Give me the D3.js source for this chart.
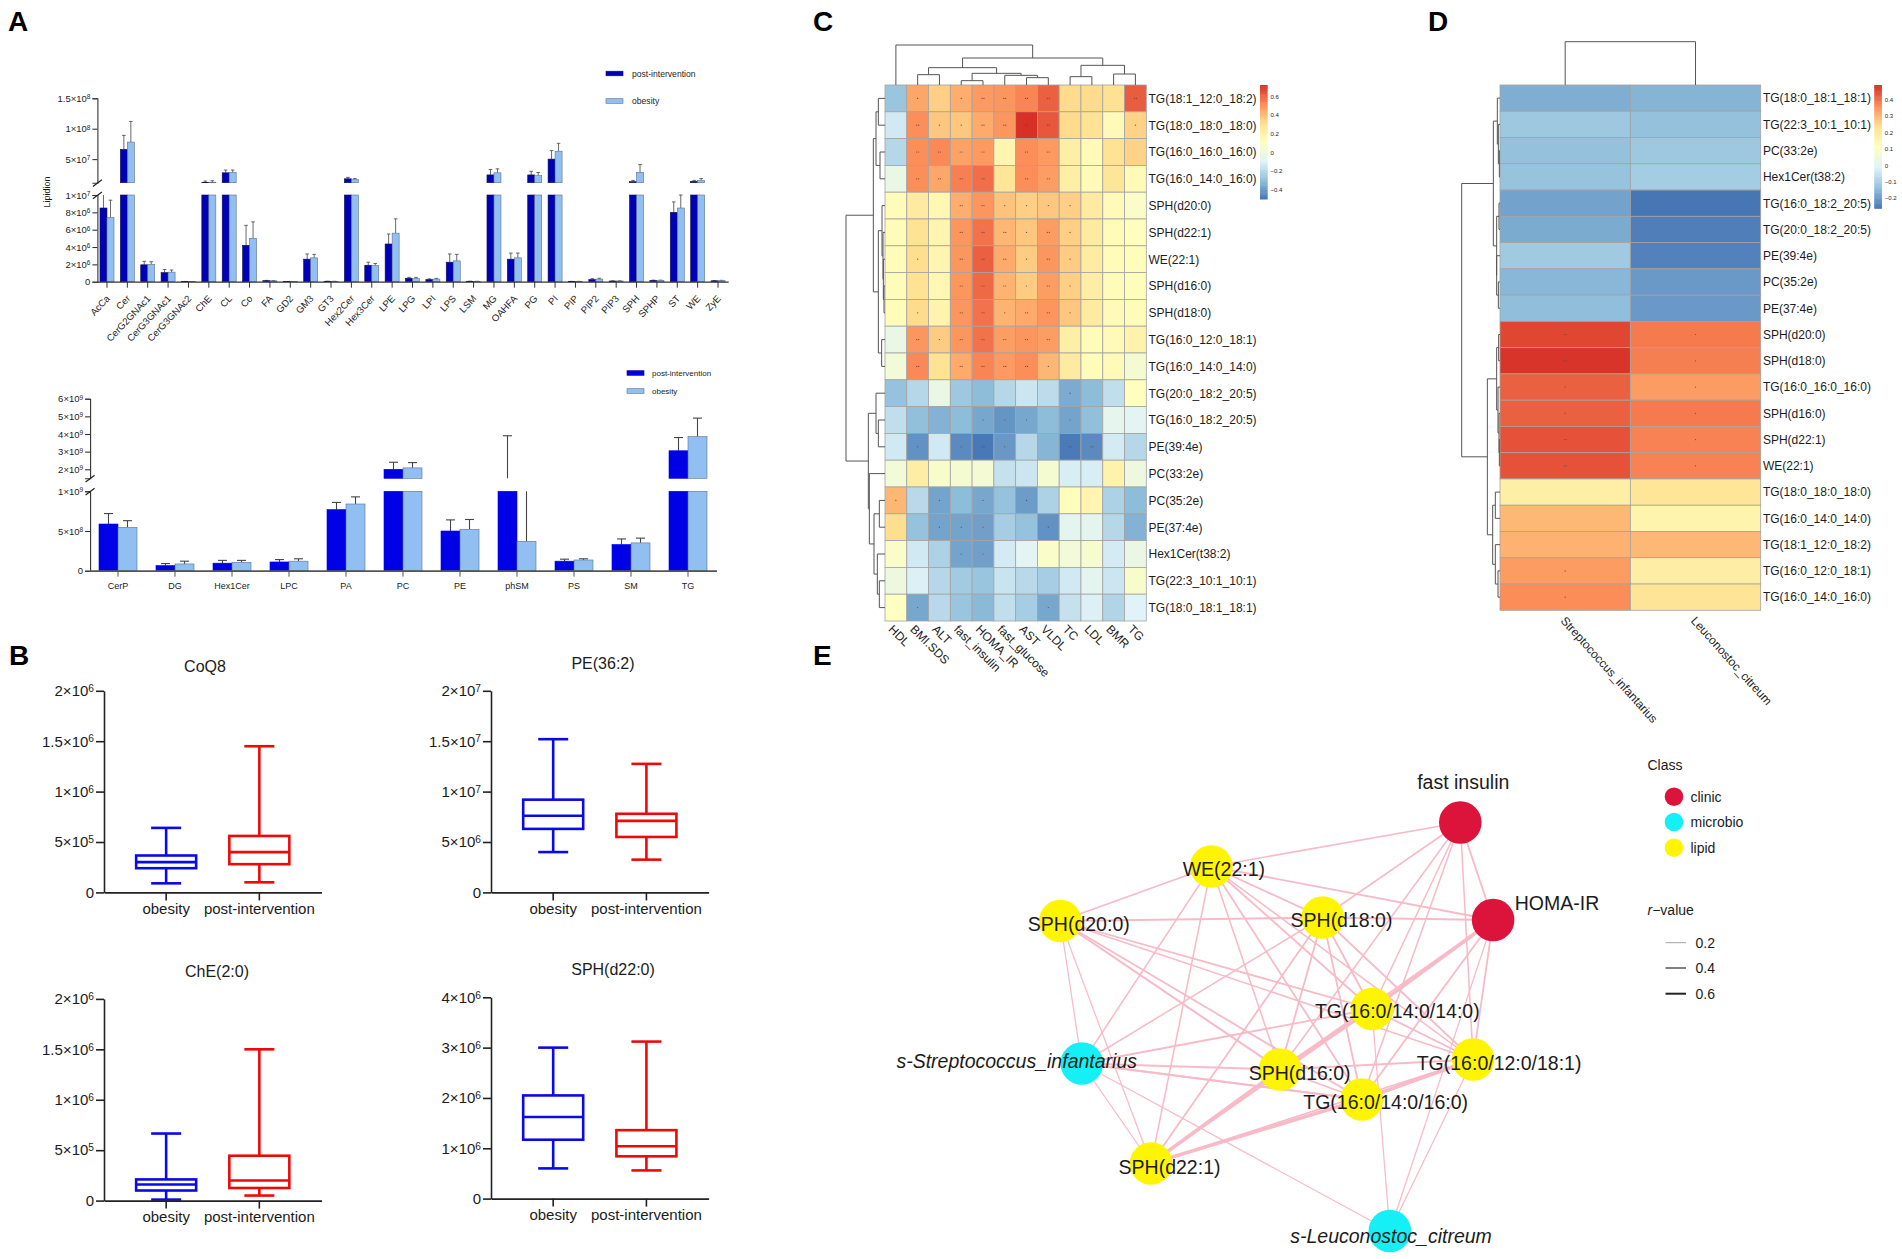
<!DOCTYPE html>
<html><head><meta charset="utf-8">
<script src="https://d3js.org/d3.v7.min.js"></script>
<style>html,body{margin:0;padding:0;background:#fff}svg{display:block}text{font-family:"Liberation Sans",Arial,sans-serif;fill:#1c1c1c}</style>
</head><body><svg id="c" width="1902" height="1259"></svg>
<script>
// ---------- Panel A top ----------
const aTopCats=["AcCa","Cer","CerG2GNAc1","CerG3GNAc1","CerG3GNAc2","ChE","CL","Co","FA","GD2","GM3","GT3","Hex2Cer","Hex3Cer","LPE","LPG","LPI","LPS","LSM","MG","OAHFA","PG","PI","PIP","PIP2","PIP3","SPH","SPHP","ST","WE","ZyE"];
const aTopPost=[8.5e6,6.6e7,1.95e6,1.05e6,1e4,1.15e7,2.75e7,4.2e6,1.2e5,1e4,2.6e6,5e4,1.76e7,1.9e6,4.35e6,4e5,2.5e5,2.25e6,5e4,2.4e7,2.6e6,2.4e7,5e7,3e4,2.5e5,8e4,1.3e7,1.5e5,8e6,1.35e7,1e5];
const aTopPostErr=[1.05e7,8.9e7,2.35e6,1.4e6,1e4,1.4e7,3.2e7,6.5e6,1.5e5,1e4,3.2e6,6e4,2e7,2.25e6,5.5e6,5e5,3.3e5,3.2e6,6e4,3.3e7,3.3e6,3e7,6.4e7,4e4,3.5e5,1e5,1.5e7,1.8e5,9.2e6,1.5e7,1.3e5];
const aTopObes=[7.4e6,7.8e7,2e6,1.1e6,1e4,1.2e7,2.8e7,5e6,1e5,1e4,2.75e6,4e4,1.65e7,1.85e6,5.6e6,3.5e5,3e5,2.4e6,4e4,2.75e7,2.75e6,2.3e7,6.3e7,3e4,3e5,8e4,2.8e7,1.5e5,8.5e6,1.5e7,1.2e5];
const aTopObesErr=[9.4e6,1.12e8,2.3e6,1.35e6,1e4,1.45e7,3.2e7,6.9e6,1.3e5,1e4,3.15e6,5e4,1.8e7,2.1e6,7.25e6,5e5,3.8e5,3.15e6,5e4,3.4e7,3.3e6,2.8e7,7.6e7,4e4,4e5,1e5,4.1e7,1.8e5,1e7,1.8e7,1.6e5];
// ---------- Panel A bottom ----------
const aBotCats=["CerP","DG","Hex1Cer","LPC","PA","PC","PE","phSM","PS","SM","TG"];
const aBotPost=[5.88e8,6.5e7,9.5e7,1.1e8,7.7e8,2e9,5e8,1.45e9,1.2e8,3.3e8,3.05e9];
const aBotPostErr=[7.2e8,9e7,1.3e8,1.4e8,8.6e8,2.4e9,6.4e8,3.9e9,1.45e8,4e8,3.8e9];
const aBotObes=[5.46e8,8.5e7,1.05e8,1.2e8,8.4e8,2.08e9,5.2e8,3.7e8,1.35e8,3.5e8,3.85e9];
const aBotObesErr=[6.3e8,1.2e8,1.3e8,1.5e8,9.3e8,2.38e9,6.45e8,1.45e9,1.5e8,4.1e8,4.9e9];
// ---------- Panel B ----------
const boxGroups=["obesity","post-intervention"];
const coq8=[[9e4,2.4e5,3e5,3.66e5,6.4e5],[1e5,2.8e5,4e5,5.6e5,1.45e6]];
const pe362=[[4e6,6.3e6,7.6e6,9.2e6,1.52e7],[3.25e6,5.5e6,7.1e6,7.8e6,1.275e7]];
const che20=[[1e4,1e5,1.6e5,2.1e5,6.65e5],[5e4,1.25e5,2e5,4.45e5,1.5e6]];
const sph220=[[6e5,1.17e6,1.62e6,2.05e6,3e6],[5.6e5,8.4e5,1.04e6,1.36e6,3.12e6]];
// ---------- Panel C ----------
const cRows=["TG(18:1_12:0_18:2)","TG(18:0_18:0_18:0)","TG(16:0_16:0_16:0)","TG(16:0_14:0_16:0)","SPH(d20:0)","SPH(d22:1)","WE(22:1)","SPH(d16:0)","SPH(d18:0)","TG(16:0_12:0_18:1)","TG(16:0_14:0_14:0)","TG(20:0_18:2_20:5)","TG(16:0_18:2_20:5)","PE(39:4e)","PC(33:2e)","PC(35:2e)","PE(37:4e)","Hex1Cer(t38:2)","TG(22:3_10:1_10:1)","TG(18:0_18:1_18:1)"];
const cCols=["HDL","BMI.SDS","ALT","fast_insulin","HOMA_IR","fast_glucose","AST","VLDL","TC","LDL","BMR","TG"];
const cVals=[
[-.27,.46,.36,.44,.49,.5,.54,.62,.33,.33,.31,.63],
[-.13,.52,.38,.38,.45,.5,.726,.64,.33,.3,.15,.35],
[-.2,.52,.53,.47,.49,.18,.52,.49,.22,.15,.3,.35],
[-.02,.52,.46,.55,.59,.28,.52,.48,.22,.15,.28,.15],
[.14,.25,.17,.44,.5,.39,.36,.38,.36,.25,.15,.08],
[.14,.3,.18,.5,.58,.42,.38,.48,.36,.25,.14,.12],
[.14,.32,.18,.5,.62,.45,.37,.5,.37,.24,.14,.13],
[.14,.3,.17,.5,.6,.43,.37,.48,.36,.23,.14,.13],
[.14,.33,.19,.5,.58,.43,.45,.5,.38,.25,.15,.14],
[-.02,.5,.37,.5,.58,.48,.5,.48,.22,.14,.15,.2],
[.03,.53,.3,.45,.54,.49,.52,.42,.25,.14,.15,.05],
[-.28,-.2,-.02,-.26,-.3,-.2,-.14,-.18,-.35,-.3,-.17,.12],
[-.17,-.29,-.33,-.3,-.36,-.41,-.36,-.3,-.37,-.29,-.05,-.07],
[-.13,-.42,-.13,-.44,-.49,-.4,-.2,-.32,-.48,-.44,-.12,-.2],
[.03,.23,.07,.05,.04,-.16,-.14,.05,-.11,-.11,.2,0],
[.42,-.19,-.37,-.3,-.36,-.28,-.39,-.22,.13,.18,-.22,-.3],
[.32,-.28,-.37,-.37,-.38,-.24,-.28,-.42,-.06,-.06,-.2,-.33],
[.08,-.13,-.22,-.37,-.38,-.12,-.07,.08,.03,.06,-.12,-.02],
[0,-.1,-.2,-.25,-.27,-.15,-.19,-.24,-.13,-.06,-.14,.07],
[.11,-.36,-.19,-.27,-.31,-.17,-.24,-.36,-.16,-.1,-.21,-.09]];
const cSig=[
[0,1,0,1,2,2,2,2,0,0,0,2],[0,2,1,1,2,2,2,2,0,0,0,1],[0,2,2,2,2,0,2,2,0,0,0,0],[0,2,2,2,2,0,2,2,0,0,0,0],
[0,0,0,2,2,1,1,1,1,0,0,0],[0,0,0,2,2,2,1,2,1,0,0,0],[0,1,0,2,2,2,1,2,1,0,0,0],[0,0,0,2,2,2,1,2,1,0,0,0],
[0,1,0,2,2,1,2,2,1,0,0,0],[0,2,1,2,2,2,2,2,0,0,0,0],[0,2,0,2,2,2,2,1,0,0,0,0],[0,0,0,0,0,0,0,0,1,0,0,0],
[0,0,0,0,1,1,1,0,1,0,0,0],[0,1,0,1,2,1,0,0,2,2,0,0],[0,0,0,0,0,0,0,0,0,0,0,0],[1,0,1,0,1,0,1,0,0,0,0,0],
[0,0,1,1,1,0,0,1,0,0,0,0],[0,0,0,1,1,0,0,0,0,0,0,0],[0,0,0,0,0,0,0,0,0,0,0,0],[0,1,0,0,0,0,0,1,0,0,0,0]];
const cColTree=[120,0,[81,[52,[31,1,2],[35,[13,3,4],[29,5,[22,6,7]]]],[59,[25,8,9],[33,10,11]]]];
const cRowTree=[117,[35,[27,[20,0,1],[15,2,3]],[20,[9,4,[6,5,[5,6,[3,7,8]]]],[10,9,10]]],[50,[27,11,[20,12,13]],[47,14,[33,[17,15,16],[23,17,[17,18,19]]]]]];
const cDomain=[-.497,.726], cLegendTicks=[.6,.4,.2,0,-.2,-.4];
// ---------- Panel D ----------
const dRows=["TG(18:0_18:1_18:1)","TG(22:3_10:1_10:1)","PC(33:2e)","Hex1Cer(t38:2)","TG(16:0_18:2_20:5)","TG(20:0_18:2_20:5)","PE(39:4e)","PC(35:2e)","PE(37:4e)","SPH(d20:0)","SPH(d18:0)","TG(16:0_16:0_16:0)","SPH(d16:0)","SPH(d22:1)","WE(22:1)","TG(18:0_18:0_18:0)","TG(16:0_14:0_14:0)","TG(18:1_12:0_18:2)","TG(16:0_12:0_18:1)","TG(16:0_14:0_16:0)"];
const dCols=["Streptococcus_infantarius","Leuconostoc_citreum"];
const dVals=[[-.165,-.155],[-.115,-.13],[-.13,-.115],[-.125,-.105],[-.185,-.26],[-.17,-.245],[-.11,-.24],[-.15,-.2],[-.135,-.2],[.46,.39],[.485,.385],[.425,.345],[.425,.39],[.445,.38],[.445,.38],[.18,.22],[.3,.16],[.31,.3],[.345,.185],[.365,.225]];
const dSig=[[0,0],[0,0],[0,0],[0,0],[0,0],[0,0],[0,0],[0,0],[0,0],[2,1],[2,1],[1,1],[1,1],[2,1],[2,1],[0,0],[0,0],[0,0],[1,0],[1,0]];
const dColTree=[130,0,1];
const dRowTree=[115,[20,[8,0,[5,1,[2,2,3]]],[10,[3,4,5],[10,6,[5,7,8]]]],[38,[10,[4,9,10],[6,11,[3,12,[2,13,14]]]],[22,[14,15,16],[14,17,[6,18,19]]]]];
const dDomain=[-.261,.491], dLegendTicks=[.4,.3,.2,.1,0,-.1,-.2];
// ---------- Panel E ----------
const netNames=["fast insulin","HOMA-IR","WE(22:1)","SPH(d20:0)","SPH(d18:0)","TG(16:0/14:0/14:0)","TG(16:0/12:0/18:1)","TG(16:0/14:0/16:0)","SPH(d16:0)","s-Streptococcus_infantarius","SPH(d22:1)","s-Leuconostoc_citreum"];
const netClass=["clinic","clinic","lipid","lipid","lipid","lipid","lipid","lipid","lipid","microbio","lipid","microbio"];
const netLayoutX=[77.1,82.6,35.4,10.1,54.05,62.3,79.25,60.6,46.9,13.7,25.3,65.3];
const netLayoutY=[12.5,32,21.3,32.2,31.5,49.8,59.9,67.9,61.9,60.7,80.7,94.2];
const netLabelX=[77.6,93.3,37.5,13.2,57.2,66.55,83.6,64.6,50.2,2.8,28.4,65.5];
const netLabelY=[4.3,28.5,21.8,32.8,31.9,50.1,60.5,68.3,62.5,60.1,81.3,95.1];
const netLinkFrom=[0,0,0,0,0,0,0,1,1,1,1,1,1,1,2,2,2,2,2,2,2,2,3,3,3,3,3,3,3,4,4,4,4,4,4,5,5,5,5,6,6,6,7,7,7,8,8,9,9,9,11,11];
const netLinkTo=  [2,4,1,5,6,7,8,2,4,5,7,6,8,11,3,4,5,6,7,8,9,10,4,9,10,5,8,7,6,9,10,8,5,6,7,9,8,10,6,8,7,10,8,10,9,9,10,10,11,7,5,6];
const netLinkR=   [.25,.25,.3,.25,.25,.25,.25,.3,.3,.6,.3,.3,.25,.2,.3,.3,.3,.25,.3,.25,.25,.25,.35,.2,.2,.3,.35,.3,.25,.25,.3,.3,.3,.3,.3,.3,.6,.3,.3,.3,.6,.25,.3,.6,.3,.35,.6,.2,.2,.35,.2,.2];
const classColors={clinic:"#dc143c",microbio:"#14f0f5",lipid:"#fff500"};
const classOrder=["clinic","microbio","lipid"];
const rLegend=[.2,.4,.6];

const svg=d3.select("#c");
function sci(sel){ // render "a×10^b" tick text with a real superscript
  sel.each(function(d){
    const t=d3.select(this); t.text("");
    if(d===0){t.text("0");return;}
    const e=Math.floor(Math.log10(d)+1e-9), m=+(d/Math.pow(10,e)).toFixed(2);
    t.append("tspan").text(m+"×10");
    t.append("tspan").attr("dy","-0.4em").attr("font-size","68%").text(e);
  });
}
function letter(s,x,y){svg.append("text").attr("x",x).attr("y",y).attr("font-size",28).attr("font-weight","bold").style("fill","#000").text(s);}
letter("A",8,31);letter("B",9,665);letter("C",813,31);letter("D",1428,31);letter("E",813,665);

function brokenPanel(o){
  const g=svg.append("g");
  const x=d3.scaleBand().domain(o.cats).range(o.xr);
  const lo=d3.scaleLinear().domain([0,o.loMax]).range(o.loR);
  const up=d3.scaleLinear().domain([o.upMin,o.upMax]).range(o.upR);
  const bw=o.bw;
  const series=[{v:o.post,e:o.postErr,dx:-bw,fill:o.postFill,st:o.postStroke},{v:o.obes,e:o.obesErr,dx:0,fill:"#92bff2",st:"#5c6f92"}];
  series.forEach(s=>{
    o.cats.forEach((c,i)=>{
      const cx=x(c)+x.bandwidth()/2, v=s.v[i], e=s.e[i], bx=cx+s.dx, mid=bx+bw/2;
      const stem=(a,b,sc)=>g.append("line").attr("x1",mid).attr("x2",mid).attr("y1",sc(a)).attr("y2",sc(b)).attr("stroke","#444").attr("stroke-width",o.errW);
      const cap=(val,sc)=>g.append("line").attr("x1",mid-o.cap).attr("x2",mid+o.cap).attr("y1",sc(val)).attr("y2",sc(val)).attr("stroke","#444").attr("stroke-width",o.errW);
      if(e>v){
        if(v<o.loMax) stem(v,Math.min(e,o.loMax),lo);
        if(e>=o.upMin) stem(Math.max(v,o.upMin),e,up);
        if(e<=o.loMax) cap(e,lo); else if(e>=o.upMin) cap(e,up);
      }
      g.append("rect").attr("x",bx).attr("width",bw).attr("y",lo(Math.min(v,o.loMax))).attr("height",lo(0)-lo(Math.min(v,o.loMax))).attr("fill",s.fill).attr("stroke",s.st).attr("stroke-width",.6);
      if(v>=o.upMin) g.append("rect").attr("x",bx).attr("width",bw).attr("y",up(v)).attr("height",up(o.upMin)-up(v)).attr("fill",s.fill).attr("stroke",s.st).attr("stroke-width",.6);
    });
  });
  const axS=(sel,w)=>{sel.selectAll("path,line").attr("stroke","#333").attr("stroke-width",w);sel.selectAll("text").attr("font-size",o.fs).attr("fill","#1c1c1c").call(sci);};
  const ax0=o.xr[0]+o.axOff;
  g.append("g").attr("transform",`translate(${ax0},0)`).call(d3.axisLeft(lo).tickValues(o.loTicks).tickSizeOuter(0).tickSize(5).tickPadding(2)).call(axS,1.1);
  g.append("g").attr("transform",`translate(${ax0},0)`).call(d3.axisLeft(up).tickValues(o.upTicks).tickSizeOuter(0).tickSize(5).tickPadding(2)).call(axS,1.1);
  const xa=g.append("g").attr("transform",`translate(0,${lo(0)})`).call(d3.axisBottom(x).tickSize(6).tickSizeOuter(0).tickPadding(o.rot?3:6));
  xa.selectAll("path,line").attr("stroke",o.xColor).attr("stroke-width",o.xW);
  xa.selectAll("line").attr("stroke-width",1);
  xa.selectAll("text").attr("font-size",o.rot?9.6:9).attr("fill","#1c1c1c");
  if(o.rot) xa.selectAll("text").attr("text-anchor","end").attr("x",0).attr("y",0).attr("dy",".35em").attr("transform","translate(1,15) rotate(-47)");
  [o.loR[1],o.upR[0]].forEach(yy=>g.append("line").attr("x1",ax0-4.5).attr("x2",ax0+4.5).attr("y1",yy+3.8).attr("y2",yy-3).attr("stroke","#222").attr("stroke-width",1.2));
  o.legend.forEach((l,i)=>{
    g.append("rect").attr("x",o.legX).attr("y",o.legY[i]-2.3).attr("width",17).attr("height",4.6).attr("fill",l[1]).attr("stroke",l[2]).attr("stroke-width",.6);
    g.append("text").attr("x",o.legX+o.legGap).attr("y",o.legY[i]+3).attr("font-size",o.legFs).text(l[0]);
  });
}
brokenPanel({cats:aTopCats,post:aTopPost,postErr:aTopPostErr,obes:aTopObes,obesErr:aTopObesErr,xr:[96.8,728.2],axOff:.6,bw:7,cap:1.8,errW:.8,
 loMax:1e7,loR:[281.7,195],upMin:1.12e7,upMax:1.5e8,upR:[182.7,98.3],loTicks:[0,2e6,4e6,6e6,8e6,1e7],upTicks:[5e7,1e8,1.5e8],fs:9.5,rot:true,xColor:"#333",xW:1.3,
 postFill:"#0000b4",postStroke:"#101050",legX:606,legGap:26,legFs:8.6,legY:[73.5,101],legend:[["post-intervention","#0000b4","#101050"],["obesity","#92bff2","#5c6f92"]]});
brokenPanel({cats:aBotCats,post:aBotPost,postErr:aBotPostErr,obes:aBotObes,obesErr:aBotObesErr,xr:[89.5,716.5],axOff:.6,bw:19,cap:4.5,errW:1.1,
 loMax:1e9,loR:[570.7,491.3],upMin:1.49e9,upMax:6e9,upR:[478.3,398.7],loTicks:[0,5e8,1e9],upTicks:[2e9,3e9,4e9,5e9,6e9],fs:9.5,rot:false,xColor:"#555",xW:1.8,
 postFill:"#0000e6",postStroke:"#0000e6",legX:627,legGap:25,legFs:8,legY:[373,391],legend:[["post-intervention","#0000e6","#0000a0"],["obesity","#92bff2","#5c6f92"]]});
svg.append("text").attr("transform","translate(50,192) rotate(-90)").attr("text-anchor","middle").attr("font-size",9).text("Lipidion");

function boxPanel(o){
  const g=svg.append("g");
  const x=d3.scaleBand().domain(boxGroups).range(o.xr).paddingInner(0).paddingOuter(.167);
  const y=d3.scaleLinear().domain([0,o.max]).range(o.yr);
  const cols=["#0a0ae6","#f00808"];
  o.data.forEach((d,i)=>{
    const cx=x(boxGroups[i])+x.bandwidth()/2, c=cols[i], sw=2.6;
    const ln=(x1,x2,y1,y2)=>g.append("line").attr("x1",x1).attr("x2",x2).attr("y1",y1).attr("y2",y2).attr("stroke",c).attr("stroke-width",sw);
    ln(cx,cx,y(d[0]),y(d[1]));ln(cx,cx,y(d[3]),y(d[4]));
    ln(cx-15,cx+15,y(d[0]),y(d[0]));ln(cx-15,cx+15,y(d[4]),y(d[4]));
    g.append("rect").attr("x",cx-30).attr("width",60).attr("y",y(d[3])).attr("height",y(d[1])-y(d[3])).attr("fill","none").attr("stroke",c).attr("stroke-width",sw);
    ln(cx-30,cx+30,y(d[2]),y(d[2]));
  });
  const st=s=>{s.selectAll("path,line").attr("stroke","#222").attr("stroke-width",1.6);s.selectAll("text").attr("font-size",15).attr("fill","#1c1c1c");};
  const ya=g.append("g").attr("transform",`translate(${o.xr[0]},0)`).call(d3.axisLeft(y).tickValues(o.ticks).tickSize(8).tickSizeOuter(0).tickPadding(2)).call(st);
  ya.selectAll("text").call(sci);
  g.append("g").attr("transform",`translate(0,${o.yr[0]})`).call(d3.axisBottom(x).tickSize(8).tickSizeOuter(0).tickPadding(3)).call(st);
  g.append("text").attr("x",o.tx).attr("y",o.ty).attr("text-anchor","middle").attr("font-size",16).text(o.title);
}
boxPanel({data:coq8,max:2e6,xr:[104,321.5],yr:[892.4,690.8],ticks:[0,5e5,1e6,1.5e6,2e6],title:"CoQ8",tx:205,ty:672});
boxPanel({data:pe362,max:2e7,xr:[491,708.6],yr:[892.4,690.8],ticks:[0,5e6,1e7,1.5e7,2e7],title:"PE(36:2)",tx:603,ty:669});
boxPanel({data:che20,max:2e6,xr:[104,321.5],yr:[1200.6,998.9],ticks:[0,5e5,1e6,1.5e6,2e6],title:"ChE(2:0)",tx:217,ty:977});
boxPanel({data:sph220,max:4e6,xr:[491,708.6],yr:[1198.6,997.3],ticks:[0,1e6,2e6,3e6,4e6],title:"SPH(d22:0)",tx:613,ty:975});

const ramp=["#4575b4","#91bfdb","#e0f3f8","#ffffbf","#fee090","#fc8d59","#d73027"];
function dendro(g,tree,pos,hs,isRow){
  function walk(n){
    if(typeof n==="number") return {p:pos(n),h:0};
    const a=walk(n[1]),b=walk(n[2]),h=n[0];
    const d=isRow?`M${hs(a.h)},${a.p}H${hs(h)}V${b.p}H${hs(b.h)}`:`M${a.p},${hs(a.h)}V${hs(h)}H${b.p}V${hs(b.h)}`;
    g.append("path").attr("d",d).attr("fill","none").attr("stroke","#555").attr("stroke-width",1);
    return {p:(a.p+b.p)/2,h};
  }
  walk(tree);
}
function heat(o){
  const g=svg.append("g");
  const x=d3.scaleBand().domain(o.cols).range(o.xr), y=d3.scaleBand().domain(o.rows).range(o.yr);
  const [a,b]=o.domain;
  const col=d3.scaleLinear().domain(ramp.map((_,i)=>a+(b-a)*i/6)).range(ramp).clamp(true);
  o.vals.forEach((row,r)=>row.forEach((v,c)=>{
    g.append("rect").attr("x",x(o.cols[c])).attr("y",y(o.rows[r])).attr("width",x.bandwidth()).attr("height",y.bandwidth()).attr("fill",col(v)).attr("stroke","#a3a3a3").attr("stroke-width",.8);
    const k=o.sig[r][c], cx=x(o.cols[c])+x.bandwidth()/2, cy=y(o.rows[r])+y.bandwidth()/2;
    d3.range(k).forEach(i=>g.append("circle").attr("cx",cx+(i-(k-1)/2)*2).attr("cy",cy).attr("r",.6).attr("fill","#6e4a3c"));
  }));
  g.selectAll(null).data(o.rows).join("text").attr("x",o.xr[1]+2.2).attr("y",d=>y(d)+y.bandwidth()/2).attr("dy",".36em").attr("font-size",12).text(d=>d);
  g.selectAll(null).data(o.cols).join("text").attr("font-size",12).attr("dy",".36em")
    .attr("transform",d=>`translate(${x(d)+x.bandwidth()/2+o.cdx},${o.yr[1]+o.cdy}) rotate(${o.crot})`).text(d=>d);
  dendro(g,o.colTree,i=>x(o.cols[i])+x.bandwidth()/2,d3.scaleLinear().domain([0,o.colTree[0]]).range(o.colH),false);
  dendro(g,o.rowTree,i=>y(o.rows[i])+y.bandwidth()/2,d3.scaleLinear().domain([0,o.rowTree[0]]).range(o.rowH),true);
  const ly=d3.scaleLinear().domain([a,b]).range(o.barY);
  d3.range(100).forEach(i=>{
    const v0=a+(b-a)*i/100,v1=a+(b-a)*(i+1)/100;
    g.append("rect").attr("x",o.barX).attr("width",7.6).attr("y",ly(v1)).attr("height",ly(v0)-ly(v1)+.5).attr("fill",col((v0+v1)/2));
  });
  g.selectAll(null).data(o.ticks).join("text").attr("x",o.barX+10.5).attr("y",d=>ly(d)).attr("dy",".35em").attr("font-size",6).attr("fill","#333")
    .text(d=>d<0?"\u2212"+Math.abs(d):d);
}
heat({rows:cRows,cols:cCols,vals:cVals,sig:cSig,domain:cDomain,ticks:cLegendTicks,xr:[885,1146.3],yr:[85,621],colTree:cColTree,rowTree:cRowTree,colH:[85,45],rowH:[885,846],barX:1260,barY:[199,85],cdx:-5,cdy:6,crot:45});
heat({rows:dRows,cols:dCols,vals:dVals,sig:dSig,domain:dDomain,ticks:dLegendTicks,xr:[1500,1760.7],yr:[85,610.3],colTree:dColTree,rowTree:dRowTree,colH:[85,41.7],rowH:[1500,1461.7],barX:1874.3,barY:[208.3,85],cdx:-2,cdy:8,crot:48});

// network
const nx=d3.scaleLinear().domain([0,100]).range([1000,1597]), ny=d3.scaleLinear().domain([0,100]).range([760,1260]);
const lw=d3.scaleLinear().domain([.2,.6]).range([1.25,3.5]);
const gn=svg.append("g");
netLinkFrom.forEach((s,i)=>{const t=netLinkTo[i];
  gn.append("line").attr("x1",nx(netLayoutX[s])).attr("y1",ny(netLayoutY[s])).attr("x2",nx(netLayoutX[t])).attr("y2",ny(netLayoutY[t])).attr("stroke","#f8bac7").attr("stroke-width",lw(netLinkR[i]));});
gn.selectAll(null).data(netNames).join("circle").attr("cx",(d,i)=>nx(netLayoutX[i])).attr("cy",(d,i)=>ny(netLayoutY[i])).attr("r",21.3).attr("fill",(d,i)=>classColors[netClass[i]]);
gn.selectAll(null).data(netNames).join("text").attr("x",(d,i)=>nx(netLabelX[i])).attr("y",(d,i)=>ny(netLabelY[i])).attr("dy",".36em").attr("text-anchor","middle").attr("font-size",19.5)
  .attr("font-style",(d,i)=>netClass[i]==="microbio"?"italic":null).text(d=>d);
svg.append("text").attr("x",1647.5).attr("y",770).attr("font-size",14).text("Class");
classOrder.forEach((c,i)=>{const yy=[796.7,822,847.7][i];
  svg.append("circle").attr("cx",1674).attr("cy",yy).attr("r",9.3).attr("fill",classColors[c]);
  svg.append("text").attr("x",1690.5).attr("y",yy+5).attr("font-size",14).text(c);});
const rt=svg.append("text").attr("x",1647.5).attr("y",915).attr("font-size",14);
rt.append("tspan").attr("font-style","italic").text("r");rt.append("tspan").text("\u2212value");
rLegend.forEach((r,i)=>{const yy=[942.7,968,993.7][i];
  svg.append("line").attr("x1",1665.5).attr("x2",1686).attr("y1",yy).attr("y2",yy).attr("stroke",["#8a8a8a","#555","#222"][i]).attr("stroke-width",[.8,1.5,2][i]);
  svg.append("text").attr("x",1695.5).attr("y",yy+5).attr("font-size",14).text(r);});
</script></body></html>
